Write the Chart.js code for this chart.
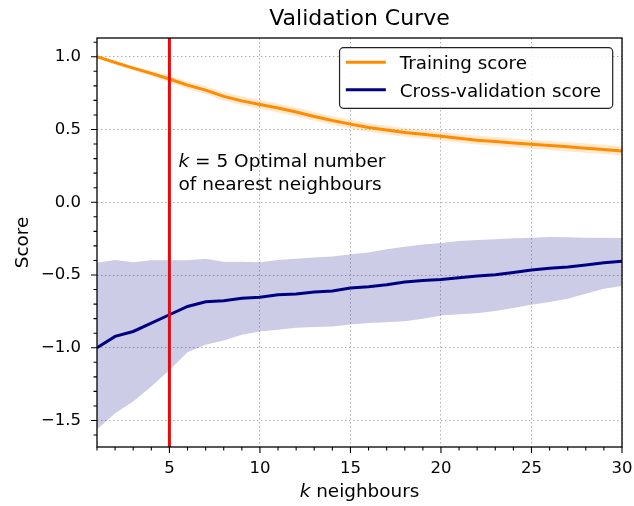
<!DOCTYPE html>
<html>
<head>
<meta charset="utf-8">
<script src="https://cdn.jsdelivr.net/npm/chart.js@4.4.1/dist/chart.umd.min.js"></script>
<style>
    html, body { margin: 0; padding: 0; background: #fff; }
    canvas { display: block; }
</style>
</head>
<body>
<canvas id="validationChart" width="634" height="506"></canvas>
<script>
// k values on the x axis
const neighbours = [1, 2, 3, 4, 5, 6, 7, 8, 9, 10, 11, 12, 13, 14, 15,
    16, 17, 18, 19, 20, 21, 22, 23, 24, 25, 26, 27, 28, 29, 30];

// Training score (mean and band)
const trainMean = [1.0, 0.961, 0.922, 0.886, 0.847, 0.805, 0.771, 0.728, 0.697, 0.672,
    0.648, 0.620, 0.590, 0.562, 0.537, 0.514, 0.496, 0.480, 0.468, 0.454,
    0.440, 0.427, 0.418, 0.408, 0.399, 0.390, 0.381, 0.372, 0.363, 0.353];
const trainUpper = [1.0, 0.969, 0.935, 0.904, 0.869, 0.830, 0.798, 0.757, 0.727, 0.703,
    0.679, 0.651, 0.620, 0.592, 0.567, 0.544, 0.526, 0.510, 0.498, 0.484,
    0.470, 0.457, 0.448, 0.439, 0.430, 0.421, 0.413, 0.404, 0.395, 0.385];
const trainLower = [1.0, 0.953, 0.909, 0.868, 0.825, 0.780, 0.744, 0.699, 0.667, 0.641,
    0.617, 0.589, 0.560, 0.532, 0.507, 0.484, 0.466, 0.450, 0.438, 0.424,
    0.410, 0.397, 0.388, 0.377, 0.368, 0.359, 0.349, 0.340, 0.331, 0.321];

// Cross-validation score (mean and band)
const cvMean = [-1.0, -0.922, -0.888, -0.830, -0.773, -0.716, -0.684, -0.677, -0.659, -0.652,
    -0.636, -0.631, -0.617, -0.610, -0.590, -0.581, -0.567, -0.548, -0.537, -0.530,
    -0.518, -0.507, -0.498, -0.482, -0.466, -0.454, -0.445, -0.431, -0.415, -0.406];
const cvUpper = [-0.415, -0.397, -0.413, -0.399, -0.399, -0.399, -0.388, -0.408, -0.408, -0.413,
    -0.397, -0.388, -0.379, -0.372, -0.358, -0.346, -0.323, -0.305, -0.291, -0.280,
    -0.266, -0.259, -0.255, -0.248, -0.243, -0.239, -0.241, -0.243, -0.243, -0.246];
const cvLower = [-1.562, -1.450, -1.370, -1.266, -1.152, -1.030, -0.980, -0.950, -0.910, -0.888,
    -0.876, -0.862, -0.858, -0.853, -0.840, -0.830, -0.824, -0.817, -0.800, -0.778,
    -0.769, -0.762, -0.748, -0.727, -0.704, -0.686, -0.663, -0.628, -0.594, -0.575];

const seriesLabels = ['Training score', 'Cross-validation score'];
const optimalK = 5;
const annotationLines = ['= 5 Optimal number', 'of nearest neighbours'];
const annotationAt = { k: 5.5, score: 0.24 };

const FONT = '"DejaVu Sans", sans-serif';

const toPoints = (values) => values.map((v, i) => ({ x: neighbours[i], y: v }));
const minusSign = (v) => v.toFixed(1).replace('-', '\u2212');

// Red line, annotation, frame, minor ticks, axis titles and legend
const extrasPlugin = {
    id: 'extras',
    afterDatasetsDraw(chart) {
        const { ctx, chartArea: area, scales: { x, y } } = chart;
        const px = x.getPixelForValue(optimalK);
        ctx.save();
        ctx.strokeStyle = '#ff0000';
        ctx.lineWidth = 3;
        ctx.beginPath();
        ctx.moveTo(px, area.top);
        ctx.lineTo(px, area.bottom);
        ctx.stroke();

        // annotation text
        const ax = x.getPixelForValue(annotationAt.k);
        const ay = y.getPixelForValue(annotationAt.score);
        ctx.fillStyle = '#000';
        ctx.textBaseline = 'alphabetic';
        ctx.textAlign = 'left';
        ctx.font = 'italic 18.5px ' + FONT;
        ctx.fillText('k', ax, ay);
        const kw = ctx.measureText('k ').width;
        ctx.font = '18.5px ' + FONT;
        ctx.fillText(annotationLines[0], ax + kw, ay);
        ctx.fillText(annotationLines[1], ax, ay + 22.5);
        ctx.restore();
    },
    afterDraw(chart) {
        const { ctx, chartArea: area, scales: { x, y } } = chart;
        ctx.save();

        // frame
        ctx.strokeStyle = '#000';
        ctx.lineWidth = 1.3;
        ctx.strokeRect(area.left, area.top, area.width, area.height);

        // ticks (major and minor)
        ctx.lineWidth = 1.1;
        ctx.beginPath();
        for (let k = Math.ceil(x.min); k <= x.max; k++) {
            const len = k % 5 === 0 ? 6 : 3.5;
            const px = x.getPixelForValue(k);
            ctx.moveTo(px, area.bottom);
            ctx.lineTo(px, area.bottom + len);
        }
        for (let i = Math.ceil(y.min * 10); i <= Math.floor(y.max * 10); i++) {
            const len = i % 5 === 0 ? 6 : 3.5;
            const py = y.getPixelForValue(i / 10);
            ctx.moveTo(area.left, py);
            ctx.lineTo(area.left - len, py);
        }
        ctx.stroke();

        // axis titles
        ctx.fillStyle = '#000';
        ctx.textBaseline = 'alphabetic';
        ctx.font = 'italic 18.4px ' + FONT;
        const kW = ctx.measureText('k').width;
        ctx.font = '18.4px ' + FONT;
        const restW = ctx.measureText(' neighbours').width;
        const cx = (area.left + area.right) / 2;
        let sx = cx - (kW + restW) / 2;
        ctx.textAlign = 'left';
        ctx.font = 'italic 18.4px ' + FONT;
        ctx.fillText('k', sx, 496.5);
        ctx.font = '18.4px ' + FONT;
        ctx.fillText(' neighbours', sx + kW, 496.5);

        ctx.save();
        ctx.translate(28, (area.top + area.bottom) / 2);
        ctx.rotate(-Math.PI / 2);
        ctx.textAlign = 'center';
        ctx.fillText('Score', 0, 0);
        ctx.restore();

        // legend
        const entries = chart.data.datasets.filter(ds => ds.label);
        ctx.font = '18.3px ' + FONT;
        const textW = Math.max(...entries.map(e => ctx.measureText(e.label).width));
        const boxW = 6.3 + 40 + 14 + textW + 11.7;
        const boxH = 60.6;
        const bx = area.right - 9.3 - boxW;
        const by = area.top + 9.7;
        ctx.beginPath();
        ctx.roundRect(bx, by, boxW, boxH, 4);
        ctx.fillStyle = 'rgba(255,255,255,0.85)';
        ctx.fill();
        ctx.strokeStyle = '#222';
        ctx.lineWidth = 1.2;
        ctx.stroke();
        entries.forEach((e, i) => {
            const base = by + 21.6 + i * 27.4;
            ctx.strokeStyle = e.borderColor;
            ctx.lineWidth = 3;
            ctx.beginPath();
            ctx.moveTo(bx + 6.3, base - 7);
            ctx.lineTo(bx + 46.3, base - 7);
            ctx.stroke();
            ctx.fillStyle = '#000';
            ctx.textAlign = 'left';
            ctx.fillText(e.label, bx + 60.3, base);
        });
        ctx.restore();
    }
};

const lineDefaults = { pointRadius: 0, tension: 0, fill: false };

const ctx = document.getElementById('validationChart').getContext('2d');
const myChart = new Chart(ctx, {
    type: 'line',
    data: {
        datasets: [
            { ...lineDefaults, label: seriesLabels[0], data: toPoints(trainMean), borderColor: 'darkorange', borderWidth: 3, order: 0 },
            { ...lineDefaults, label: seriesLabels[1], data: toPoints(cvMean), borderColor: 'navy', borderWidth: 3, order: 0 },
            { ...lineDefaults, data: toPoints(trainLower), borderWidth: 0, borderColor: 'rgba(0,0,0,0)', order: 1 },
            { ...lineDefaults, data: toPoints(trainUpper), borderWidth: 0, borderColor: 'rgba(0,0,0,0)', fill: 2, backgroundColor: 'rgba(255,140,0,0.2)', order: 1 },
            { ...lineDefaults, data: toPoints(cvLower), borderWidth: 0, borderColor: 'rgba(0,0,0,0)', order: 1 },
            { ...lineDefaults, data: toPoints(cvUpper), borderWidth: 0, borderColor: 'rgba(0,0,0,0)', fill: 4, backgroundColor: 'rgba(0,0,128,0.2)', order: 1 }
        ]
    },
    options: {
        responsive: false,
        animation: false,
        devicePixelRatio: 1,
        layout: { padding: { left: 0, right: 12, top: 0, bottom: 0 } },
        plugins: {
            legend: { display: false },
            tooltip: { enabled: false },
            title: {
                display: true,
                text: 'Validation Curve',
                fullSize: false,
                color: '#000',
                font: { family: FONT, size: 22, weight: 'normal' },
                padding: { top: 6, bottom: 5.6 }
            }
        },
        scales: {
            x: {
                type: 'linear',
                min: 1,
                max: 30,
                ticks: {
                    stepSize: 5,
                    includeBounds: false,
                    maxRotation: 0,
                    padding: 11.7,
                    color: '#000',
                    font: { family: FONT, size: 16.5 }
                },
                grid: { color: '#b0b0b0', lineWidth: 1, drawTicks: false },
                border: { display: false, dash: [1.5, 2.5] },
                afterFit: (scale) => {
                    scale.height = 59;
                    scale.paddingLeft = 0;
                    scale.paddingRight = 0;
                }
            },
            y: {
                type: 'linear',
                min: -1.682,
                max: 1.129,
                ticks: {
                    stepSize: 0.5,
                    includeBounds: false,
                    padding: 16,
                    color: '#000',
                    font: { family: FONT, size: 16.5 },
                    callback: (v) => minusSign(v)
                },
                grid: { color: '#b0b0b0', lineWidth: 1, drawTicks: false },
                border: { display: false, dash: [1.5, 2.5] },
                afterFit: (scale) => {
                    scale.width = 97;
                    scale.paddingTop = 0;
                    scale.paddingBottom = 0;
                }
            }
        }
    },
    plugins: [extrasPlugin]
});
</script>
</body>
</html>
